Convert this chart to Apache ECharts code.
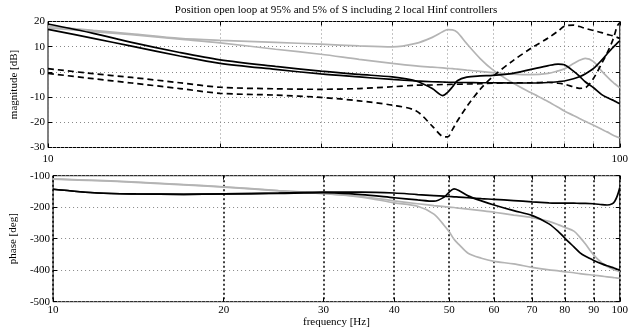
<!DOCTYPE html>
<html>
<head>
<meta charset="utf-8">
<script src="https://cdn.jsdelivr.net/npm/echarts@6/dist/echarts.min.js"></script>
<style>
  html, body { margin: 0; padding: 0; background: #fff; }
  #chart { width: 631px; height: 335px; }
</style>
</head>
<body>
<div id="chart"></div>
<script>
// frequency grid [Hz]
const freq = [10, 12, 14, 17, 20, 25, 30, 35, 40, 44, 47, 49, 50, 51, 52, 54, 57, 60, 65, 70, 75, 78, 80, 83, 85, 87, 90, 93, 95, 97, 98, 99, 100];

// magnitude [dB]
const magBlackA = [19, 15.3, 11.7, 7.7, 4.8, 2.2, 0.3, -1, -2, -3.6, -6.6, -9.4, -8.1, -5.9, -3.5, -2.1, -1.6, -1.4, -0.6, 1.0, 2.5, 3.1, 2.8, 0.3, -1.7, -3.9, -6.3, -9.0, -10.2, -11.1, -11.6, -12.1, -12.6];
const magBlackB = [16.9, 13.3, 10.2, 6.3, 3.4, 1.0, -0.8, -2, -3, -3.6, -3.9, -4.0, -4.1, -4.1, -4.2, -4.2, -4.3, -4.3, -4.4, -4.4, -4.2, -3.9, -3.6, -2.7, -1.9, -0.8, 1.4, 4.7, 7.1, 9.4, 10.4, 11.4, 12.3];
const magGrayC = [18.2, 16.5, 15.1, 13.3, 12.5, 11.7, 11.0, 10.3, 9.9, 11.3, 13.7, 15.9, 16.8, 16.7, 15.7, 11.2, 5.3, 0.8, -4.4, -8.3, -11.8, -14.0, -15.5, -17.3, -18.5, -19.6, -21.2, -22.8, -23.8, -24.9, -25.4, -25.8, -26.2];
const magGrayD = [17.5, 16.0, 14.8, 13.0, 11.5, 9.0, 7.0, 5.0, 3.4, 2.4, 1.9, 1.6, 1.4, 1.3, 1.1, 0.7, 0.2, -0.3, -0.9, -1.1, -0.6, 0.4, 1.2, 3.3, 4.6, 5.4, 4.1, 0.3, -1.9, -3.9, -4.7, -5.5, -6.3];
const magDashE = [1.3, -0.7, -2.2, -4.3, -6.1, -6.7, -6.9, -6.6, -5.9, -5.3, -5.2, -5.0, -5.0, -4.9, -4.9, -4.8, -4.7, -4.5, -4.3, -4.3, -4.1, -4.5, -4.9, -5.9, -6.5, -6.3, -2.5, 3.4, 7.4, 12.0, 15.0, 18.2, 19.5];
const magDashF = [-0.6, -2.7, -4.4, -6.6, -8.5, -9.2, -10.1, -11.5, -13.2, -15.4, -21.5, -25.6, -25.8, -22.8, -19.5, -13.8, -6.9, -1.8, 4.4, 9.4, 13.5, 16.2, 18.1, 18.6, 18.0, 17.3, 16.4, 15.6, 14.9, 14.4, 14.0, 13.7, 13.3];

// phase [deg]
const phBlackFlat = [-143, -155, -158, -159, -158, -155, -152, -152, -155, -160, -163, -165, -166, -167, -168, -170, -173, -175, -179, -183, -186, -187, -187, -187, -188, -188, -189, -192, -193, -189, -181, -164, -138];
const phBlackBump = [-143, -155, -158, -159, -158, -156, -154, -160, -170, -177, -181, -168, -152, -142, -147, -164, -180, -193, -211, -226, -253, -278, -298, -326, -344, -356, -369, -380, -386, -391, -394, -397, -399];
const phGrayA = [-111, -116, -121, -129, -136, -148, -157, -168, -186, -197, -222, -258, -278, -302, -318, -346, -362, -372, -380, -391, -399, -402, -405, -408, -411, -413, -416, -419, -421, -423, -424, -425, -426];
const phGrayB = [-110, -115, -120, -128, -135, -147, -156, -166, -180, -189, -195, -198, -200, -201, -203, -206, -211, -216, -225, -233, -245, -256, -264, -276, -295, -317, -352, -377, -388, -396, -399, -402, -405];

// axis ticks
const freqTicks = [10, 20, 30, 40, 50, 60, 70, 80, 90, 100];
const freqTicksTopLabels = [10, 100];

const FONT = "Liberation Serif";
const GRAY = "#b4b4b4";

const pairs = (vals) => freq.map((f, i) => [f, vals[i]]);

function curve(vals, idx, color, dashed) {
  return {
    type: "line",
    xAxisIndex: idx,
    yAxisIndex: idx,
    data: pairs(vals),
    showSymbol: false,
    smooth: 0.3,
    silent: true,
    lineStyle: {
      color: color,
      width: 1.7,
      type: dashed ? [6, 4] : "solid",
    },
  };
}

function freqAxis(gridIndex, position, opts) {
  return {
    type: "log",
    logBase: 10,
    gridIndex: gridIndex,
    position: position,
    min: 10,
    max: 100,
    axisLine: { show: false, onZero: false },
    axisTick: {
      show: true,
      inside: true,
      length: 4,
      customValues: freqTicks,
      lineStyle: { color: "#000", width: 1 },
    },
    axisLabel: { show: false },
    splitLine: { show: false },
    ...opts,
  };
}

function valueAxis(gridIndex, position, min, max, interval, opts) {
  return {
    type: "value",
    gridIndex: gridIndex,
    position: position,
    min: min,
    max: max,
    interval: interval,
    axisLine: { show: false, onZero: false },
    axisTick: {
      show: true,
      inside: true,
      length: 4,
      lineStyle: { color: "#000", width: 1 },
    },
    axisLabel: { show: false },
    splitLine: { show: false },
    ...opts,
  };
}

const labelStyle = { fontFamily: FONT, fontSize: 11, color: "#000" };
const dotted = { color: "#888", width: 1, type: [1, 3] };

const chart = echarts.init(document.getElementById("chart"), null, { renderer: "canvas" });

chart.setOption({
  animation: false,
  backgroundColor: "#fff",
  graphic: [
    {
      type: "text",
      x: 336,
      y: 10,
      style: {
        text: "Position open loop at 95% and 5% of S including 2 local Hinf controllers",
        font: "11px " + FONT,
        fill: "#000",
        textAlign: "center",
        textVerticalAlign: "middle",
      },
    },
  ],
  grid: [
    { left: 48, right: 7, top: 21.5, height: 126, show: true, borderColor: "#000", borderWidth: 1, backgroundColor: "transparent" },
    { left: 48, right: 7, top: 175.7, height: 126, show: true, borderColor: "#000", borderWidth: 1, backgroundColor: "transparent" },
  ],
  xAxis: [
    freqAxis(0, "bottom", {
      axisLabel: { show: true, customValues: freqTicksTopLabels, margin: 6, ...labelStyle },
      splitLine: { show: true, lineStyle: dotted },
    }),
    freqAxis(1, "bottom", {
      axisLabel: { show: true, customValues: freqTicks, margin: 3, ...labelStyle },
      splitLine: { show: true, lineStyle: { color: "#000", width: 1.5, type: [2, 2.5] } },
      name: "frequency [Hz]",
      nameLocation: "middle",
      nameGap: 15,
      nameTextStyle: labelStyle,
    }),
    freqAxis(0, "top", {}),
    freqAxis(1, "top", {}),
  ],
  yAxis: [
    valueAxis(0, "left", -30, 20, 10, {
      axisLabel: { show: true, margin: 3, ...labelStyle },
      splitLine: { show: true, lineStyle: dotted },
      name: "magnitude [dB]",
      nameLocation: "middle",
      nameGap: 26,
      nameTextStyle: labelStyle,
    }),
    valueAxis(1, "left", -500, -100, 100, {
      axisLabel: { show: true, margin: 3, ...labelStyle },
      splitLine: { show: true, lineStyle: dotted },
      name: "phase [deg]",
      nameLocation: "middle",
      nameGap: 30,
      nameTextStyle: labelStyle,
    }),
    valueAxis(0, "right", -30, 20, 10, {}),
    valueAxis(1, "right", -500, -100, 100, {}),
  ],
  series: [
    curve(magGrayC, 0, GRAY, false),
    curve(magGrayD, 0, GRAY, false),
    curve(magDashE, 0, "#000", true),
    curve(magDashF, 0, "#000", true),
    curve(magBlackA, 0, "#000", false),
    curve(magBlackB, 0, "#000", false),
    curve(phGrayA, 1, GRAY, false),
    curve(phGrayB, 1, GRAY, false),
    curve(phBlackFlat, 1, "#000", false),
    curve(phBlackBump, 1, "#000", false),
  ],
});
</script>
</body>
</html>
